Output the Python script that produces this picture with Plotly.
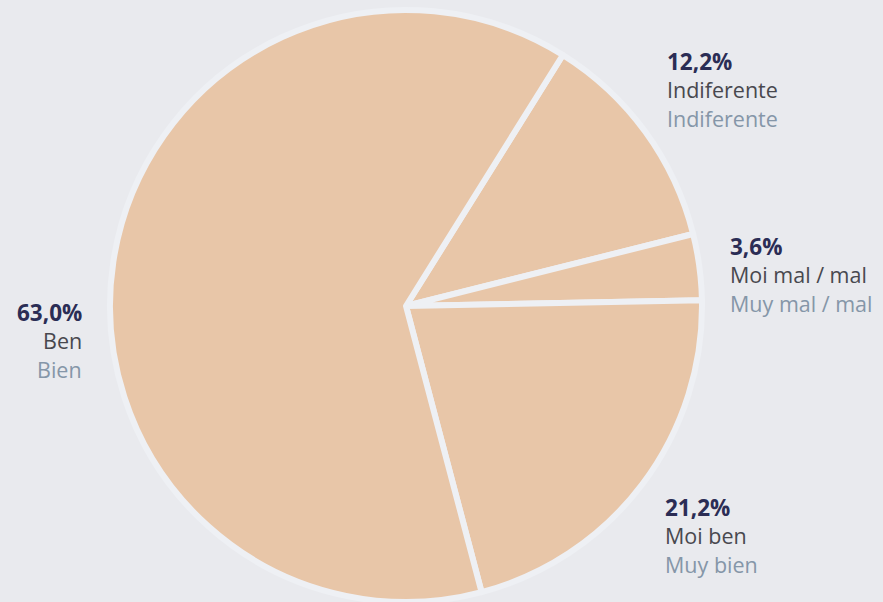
import plotly.graph_objects as go

# datos (orde horario desde arriba á dereita)
labels_gl = ["Indiferente", "Moi mal / mal", "Moi ben", "Ben"]
labels_es = ["Indiferente", "Muy mal / mal", "Muy bien", "Bien"]
values = [12.2, 3.6, 21.2, 63.0]

BG = "#e9eaee"
SLICE = "#e8c6a8"
NAVY = "#2b2d55"
GREY = "#48484e"
LIGHT = "#8596a8"

W, H = 883, 602

fig = go.Figure(go.Pie(
    labels=labels_gl,
    values=values,
    sort=False,
    direction="clockwise",
    rotation=32,
    textinfo="none",
    hoverinfo="label+percent",
    marker=dict(colors=[SLICE] * len(values), line=dict(color="#eef0f4", width=6)),
    domain=dict(x=[110 / W, 702 / W], y=[0, 592 / H]),
    showlegend=False,
))

# posicións das etiquetas (px: x, y da primeira liña, aliñamento)
label_pos = [(665, 61, "left"), (728, 246, "left"), (663, 507, "left"), (84, 312, "right")]

annotations = []
for (x, y, align), v, gl, es in zip(label_pos, values, labels_gl, labels_es):
    pct = f"{v:.1f}%".replace(".", ",")
    lines = [(pct, NAVY, True, 22.5), (gl, GREY, False, 21.5), (es, LIGHT, False, 21.5)]
    for i, (txt, col, bold, size) in enumerate(lines):
        annotations.append(dict(
            x=x / W, y=1 - (y + i * 28.5) / H, xref="paper", yref="paper",
            xanchor=align, yanchor="middle", showarrow=False,
            text=f"<b>{txt}</b>" if bold else txt,
            font=dict(family="Open Sans, Noto Sans, sans-serif", size=size, color=col),
        ))

fig.update_layout(
    width=W, height=H,
    margin=dict(l=0, r=0, t=0, b=0),
    paper_bgcolor=BG,
    plot_bgcolor=BG,
    annotations=annotations,
)

fig.write_html("out.html", config={"displayModeBar": False},
               post_script="document.body.style.margin='0';")
